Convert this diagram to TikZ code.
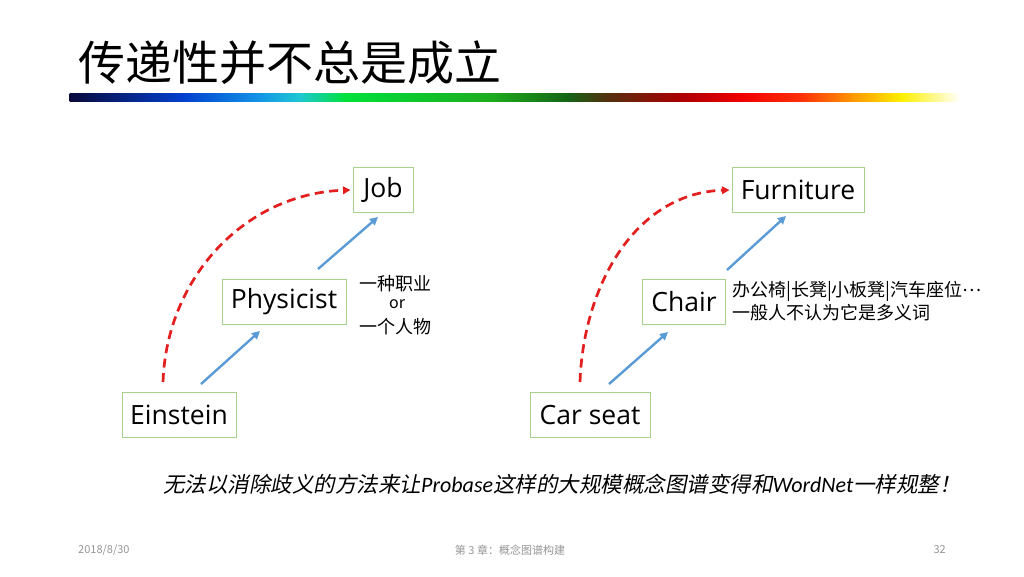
\documentclass[tikz,border=0pt]{standalone}
\usepackage{fontspec}
\setmainfont{Open Sans}
\newfontfamily\cjk{Noto Sans CJK SC}
\newfontfamily\cjkit[FakeSlant=0.2]{Noto Sans CJK SC}
\newfontfamily\carit{Carlito Italic}
\usetikzlibrary{arrows.meta,calc}
\definecolor{boxgreen}{RGB}{169,209,142}
\definecolor{arrblue}{RGB}{91,155,213}
\definecolor{dashred}{RGB}{226,30,30}
\definecolor{footgray}{RGB}{150,150,150}
\definecolor{g1}{RGB}{10,10,60}
\definecolor{g2}{RGB}{0,64,208}
\definecolor{g3}{RGB}{20,150,230}
\definecolor{g4}{RGB}{30,200,210}
\definecolor{g5}{RGB}{0,225,60}
\definecolor{g6}{RGB}{30,170,30}
\definecolor{g7}{RGB}{20,100,20}
\definecolor{g8}{RGB}{80,50,15}
\definecolor{g9}{RGB}{170,0,0}
\definecolor{g10}{RGB}{240,0,0}
\definecolor{g11}{RGB}{255,50,10}
\definecolor{g12}{RGB}{255,150,0}
\definecolor{g13}{RGB}{255,240,0}
\definecolor{g14}{RGB}{255,255,255}
\begin{document}
\begin{tikzpicture}[x=1pt,y=-1pt,
  conceptbox/.style={draw=boxgreen,line width=1pt,minimum height=45pt,inner sep=0pt,
    font=\fontsize{26.5}{30}\selectfont,text=black},
  bluearrow/.style={draw=arrblue,line width=2.4pt,-{Triangle[length=8pt,width=8pt]}},
  reddash/.style={draw=dashred,line width=2.7pt,dash pattern=on 9pt off 5.5pt,-{Triangle[length=7.5pt,width=7.5pt]}},
  note/.style={font=\cjk\fontsize{18}{23}\selectfont,inner sep=0pt,align=left},
  foot/.style={font=\cjk\fontsize{11}{13}\selectfont,text=footgray,inner sep=0pt}]
\useasboundingbox (0,0) rectangle (1024,576);
\fill[white] (0,0) rectangle (1024,576);
% title
\node[anchor=west,inner sep=0pt,font=\cjk\fontsize{47}{50}\selectfont] (title) at (78,63) {传递性并不总是成立};
% gradient bar
\foreach \xa/\xb/\ca/\cb in {70/184/g1/g2,184/260/g2/g3,260/300/g3/g4,300/345/g4/g5,345/493/g5/g6,493/568/g6/g7,568/605/g7/g8,605/679/g8/g9,679/741/g9/g10,741/803/g10/g11,803/852/g11/g12,852/902/g12/g13,902/960/g13/g14}
  \shade[left color=\ca,right color=\cb] (\xa-0.4,93) rectangle (\xb+0.4,101);
% left diagram
\node[conceptbox,minimum width=60pt] (J) at (383,190) {Job};
\node[conceptbox,minimum width=124pt] (P) at (284,302) {Physicist};
\node[conceptbox,minimum width=114pt] (E) at (179,415) {Einstein};
\draw[bluearrow] ([xshift=22pt,yshift=8pt]E.north) -- ([xshift=-24pt,yshift=-6pt]P.south);
\draw[bluearrow] ([xshift=34pt,yshift=10pt]P.north) -- ([xshift=-5pt,yshift=-4pt]J.south);
\draw[reddash] ([xshift=-16pt,yshift=10pt]E.north) to[out=88,in=182] ([xshift=-2pt]J.west);
\node[note,anchor=west] (n1) at (359,284) {一种职业};
\node[note,anchor=center,font=\cjk\fontsize{16}{20}\selectfont] (n2) at (397,304) {or};
\node[note,anchor=west] (n3) at (359,327) {一个人物};
% right diagram
\node[conceptbox,minimum width=132pt] (F) at (798,190) {Furniture};
\node[conceptbox,minimum width=83pt] (C) at (684,302) {Chair};
\node[conceptbox,minimum width=120pt] (S) at (590,415) {Car seat};
\draw[bluearrow] ([xshift=19pt,yshift=8pt]S.north) -- ([xshift=-16pt,yshift=-7pt]C.south);
\draw[bluearrow] ([xshift=43pt,yshift=9pt]C.north) -- ([xshift=-12pt,yshift=-3pt]F.south);
\draw[reddash] ([xshift=-10pt,yshift=10pt]S.north) to[out=88,in=182] ([xshift=-2pt]F.west);
\node[note,anchor=north west] (n4) at (732,281) {办公椅|长凳|小板凳|汽车座位\raisebox{0.3em}{…}\\一般人不认为它是多义词};
% bottom statement
\node[inner sep=0pt,anchor=west,font=\cjkit\fontsize{21.5}{24}\selectfont] (stmt) at (163,484)
  {无法以消除歧义的方法来让{\carit\fontsize{22}{24}\selectfont Probase}这样的大规模概念图谱变得和{\carit\fontsize{22}{24}\selectfont WordNet}一样规整！};
% footer
\node[foot,anchor=west] (date) at (78,550) {2018/8/30};
\node[foot] (chap) at (510,550) {第 3 章：概念图谱构建};
\node[foot,anchor=east] (page) at (946,550) {32};
\end{tikzpicture}
\end{document}
